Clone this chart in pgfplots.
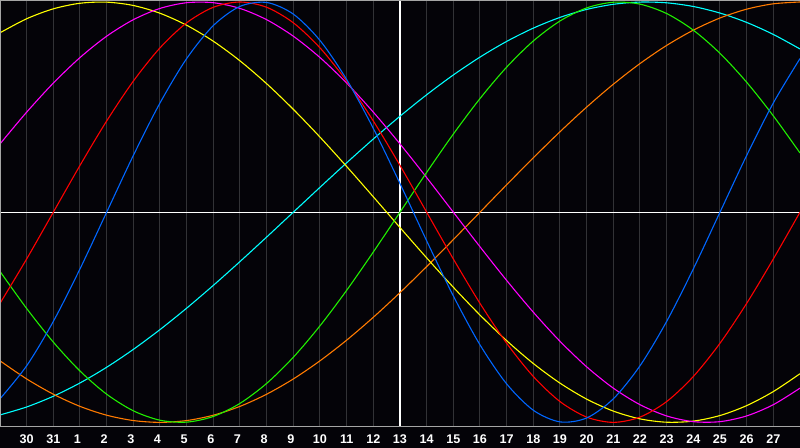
\documentclass[border=0pt]{standalone}
\usepackage{fontspec}
\setmainfont{Liberation Sans}
\usepackage{pgfplots}
\usepackage{pgfplotstable}
\pgfplotsset{compat=1.18}
\definecolor{bg}{RGB}{4,3,8}
\definecolor{gridc}{RGB}{50,50,54}
\definecolor{bordc}{RGB}{165,165,165}
\definecolor{cblue}{RGB}{0,102,255}
\definecolor{cred}{RGB}{255,0,0}
\definecolor{cgreen}{RGB}{32,240,0}
\definecolor{cmag}{RGB}{255,0,255}
\definecolor{cyel}{RGB}{255,255,0}
\definecolor{corange}{RGB}{255,122,0}
\definecolor{ccyan}{RGB}{0,255,255}
\newcommand\sd[1]{#1\hspace*{2.5pt}}
\pgfplotstableread{
t blue red green mag yel ora cya
0 -0.8879 -0.4339 -0.2817 0.3247 0.8534 -0.7071 -0.9646
1 -0.7308 -0.2225 -0.4582 0.4759 0.9203 -0.7934 -0.9267
2 -0.5196 0 -0.6182 0.6142 0.9675 -0.8660 -0.8757
3 -0.2698 0.2225 -0.7557 0.7357 0.9940 -0.9239 -0.8125
4 0 0.4339 -0.8660 0.8372 0.9993 -0.9659 -0.7378
5 0.2698 0.6235 -0.9450 0.9158 0.9834 -0.9914 -0.6528
6 0.5196 0.7818 -0.9898 0.9694 0.9464 -1 -0.5586
7 0.7308 0.9010 -0.9989 0.9966 0.8894 -0.9914 -0.4566
8 0.8879 0.9749 -0.9718 0.9966 0.8133 -0.9659 -0.3482
9 0.9791 1 -0.9096 0.9694 0.7200 -0.9239 -0.2349
10 0.9977 0.9749 -0.8146 0.9158 0.6112 -0.8660 -0.1183
11 0.9423 0.9010 -0.6901 0.8372 0.4894 -0.7934 0
12 0.8170 0.7818 -0.5406 0.7357 0.3572 -0.7071 0.1183
13 0.6311 0.6235 -0.3717 0.6142 0.2174 -0.6088 0.2349
14 0.3984 0.4339 -0.1893 0.4759 0.0730 -0.5 0.3482
15 0.1362 0.2225 0 0.3247 -0.0730 -0.3827 0.4566
16 -0.1362 0 0.1893 0.1646 -0.2174 -0.2588 0.5586
17 -0.3984 -0.2225 0.3717 0 -0.3572 -0.1305 0.6528
18 -0.6311 -0.4339 0.5406 -0.1646 -0.4894 0 0.7378
19 -0.8170 -0.6235 0.6901 -0.3247 -0.6112 0.1305 0.8125
20 -0.9423 -0.7818 0.8146 -0.4759 -0.7200 0.2588 0.8757
21 -0.9977 -0.9010 0.9096 -0.6142 -0.8133 0.3827 0.9267
22 -0.9791 -0.9749 0.9718 -0.7357 -0.8894 0.5 0.9646
23 -0.8879 -1 0.9989 -0.8372 -0.9464 0.6088 0.9890
24 -0.7308 -0.9749 0.9898 -0.9158 -0.9834 0.7071 0.9996
25 -0.5196 -0.9010 0.9450 -0.9694 -0.9993 0.7934 0.9961
26 -0.2698 -0.7818 0.8660 -0.9966 -0.9940 0.8660 0.9786
27 0 -0.6235 0.7557 -0.9966 -0.9675 0.9239 0.9473
28 0.2698 -0.4339 0.6182 -0.9694 -0.9203 0.9659 0.9028
29 0.5196 -0.2225 0.4582 -0.9158 -0.8534 0.9914 0.8456
30 0.7308 0 0.2817 -0.8372 -0.7685 1 0.7765
}\data
\begin{document}
\begin{tikzpicture}
\fill[bg] (0,-10.5pt) rectangle (400pt,213.5pt);
\useasboundingbox (0,-10.5pt) rectangle (400pt,213.5pt);
\begin{axis}[
  at={(0,0)}, anchor=south west,
  scale only axis, width=400pt, height=213.5pt,
  xmin=0, xmax=30, ymin=-1.022, ymax=1.0095,
  axis line style={draw=none},
  xtick={1,...,29},
  xticklabels={30,31,\sd1,\sd2,\sd3,\sd4,\sd5,\sd6,\sd7,\sd8,\sd9,10,11,12,13,14,15,16,17,18,19,20,21,22,23,24,25,26,27},
  ytick=\empty,
  major tick length=0pt,
  xmajorgrids,
  grid style={gridc, line width=0.5pt},
  extra x ticks={15}, extra x tick labels={},
  extra x tick style={grid=major, grid style={white, line width=0.6pt}},
  extra y ticks={0}, extra y tick labels={},
  extra y tick style={grid=major, grid style={white, line width=0.6pt}},
  xticklabel style={font=\fontsize{6.3}{7}\selectfont\bfseries, text=white, anchor=center, yshift=-5.9pt, inner sep=0pt},
  every axis plot/.append style={line width=0.55pt, mark=none, smooth},
  clip=true,
]
\addplot[ccyan] table[x=t, y=cya] {\data};
\addplot[corange] table[x=t, y=ora] {\data};
\addplot[cyel] table[x=t, y=yel] {\data};
\addplot[cmag] table[x=t, y=mag] {\data};
\addplot[cgreen] table[x=t, y=green] {\data};
\addplot[cred] table[x=t, y=red] {\data};
\addplot[cblue] table[x=t, y=blue] {\data};
\draw[bordc, line width=1pt] (rel axis cs:0,1) -- (rel axis cs:1,1);
\draw[bordc, line width=1pt] (rel axis cs:0,0) -- (rel axis cs:0,1);
\draw[bordc, line width=0.6pt] (rel axis cs:0,0) -- (rel axis cs:1,0);
\end{axis}
\end{tikzpicture}
\end{document}
